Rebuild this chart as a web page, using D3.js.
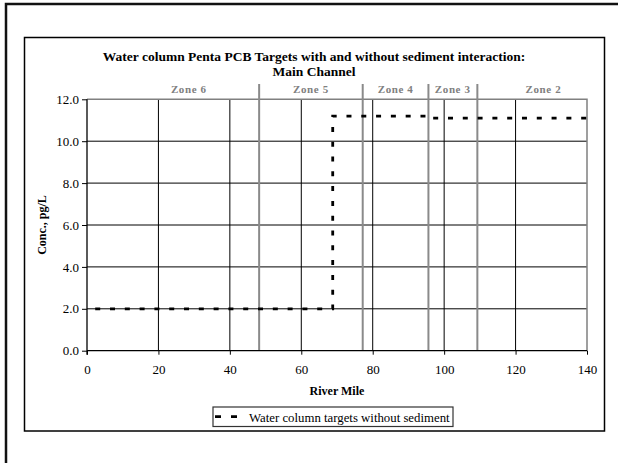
<!DOCTYPE html>
<html>
<head>
<meta charset="utf-8">
<script src="https://cdn.jsdelivr.net/npm/d3@7"></script>
<style>
  body { margin: 0; background: #fff; }
  svg { display: block; font-family: "Liberation Serif", "Times New Roman", serif; }
</style>
</head>
<body>
<script>
// step series: water column targets without sediment
var riverMile = [2.3, 68.8, 68.8, 95.6, 95.6, 140];
var targetConc = [2.0, 2.0, 11.2, 11.2, 11.1, 11.1];

var zoneNames = ["Zone 6", "Zone 5", "Zone 4", "Zone 3", "Zone 2"];
var zoneLabelMile = [28.5, 62.7, 86.4, 102.4, 127.8];
var zoneBounds = [48.2, 77.2, 95.6, 109.3];

var xTicks = [0, 20, 40, 60, 80, 100, 120, 140];
var yTicks = [0, 2, 4, 6, 8, 10, 12];

const W = 618, H = 463;

var svg = d3.select("body").append("svg")
  .attr("width", W)
  .attr("height", H);

// outer frame (top + left only)
svg.append("path")
  .attr("d", "M6,463 V4 H618")
  .attr("fill", "none")
  .attr("stroke", "#111")
  .attr("stroke-width", 2.5);

// inner chart frame
svg.append("rect")
  .attr("x", 24.5).attr("y", 37.5)
  .attr("width", 580).attr("height", 393.5)
  .attr("fill", "#fff")
  .attr("stroke", "#000")
  .attr("stroke-width", 1.5);

const x = d3.scaleLinear().domain([0, 140]).range([87, 587]);
const y = d3.scaleLinear().domain([0, 12]).range([350.7, 99.3]);

// gridlines
svg.append("g")
  .selectAll("line")
  .data(yTicks.filter(d => d > 0 && d < 12))
  .enter().append("line")
  .attr("x1", x(0)).attr("x2", x(140))
  .attr("y1", d => y(d)).attr("y2", d => y(d))
  .attr("stroke", "#000").attr("stroke-width", 1);

svg.append("g")
  .selectAll("line")
  .data(xTicks.filter(d => d > 0 && d < 140))
  .enter().append("line")
  .attr("x1", d => x(d)).attr("x2", d => x(d))
  .attr("y1", y(12)).attr("y2", y(0))
  .attr("stroke", "#000").attr("stroke-width", 1);

// plot border top/right (grey)
svg.append("path")
  .attr("d", "M" + x(0) + "," + y(12) + " H" + x(140) + " V" + y(0))
  .attr("fill", "none")
  .attr("stroke", "#808080")
  .attr("stroke-width", 1.5);

// zone boundaries
svg.append("g")
  .selectAll("line")
  .data(zoneBounds)
  .enter().append("line")
  .attr("x1", d => x(d)).attr("x2", d => x(d))
  .attr("y1", 84).attr("y2", y(0))
  .attr("stroke", "#8a8a8a").attr("stroke-width", 2);

svg.append("g")
  .selectAll("text")
  .data(zoneNames)
  .enter().append("text")
  .attr("x", (d, i) => x(zoneLabelMile[i]))
  .attr("y", 92.7)
  .attr("text-anchor", "middle")
  .attr("font-size", 11)
  .attr("letter-spacing", 0.6)
  .attr("font-weight", "bold")
  .attr("fill", "#808080")
  .text(d => d);

// axes
const xAxis = d3.axisBottom(x).tickValues(xTicks).tickSize(4).tickPadding(10).tickFormat(d3.format("d"));
const yAxis = d3.axisLeft(y).tickValues(yTicks).tickSize(5).tickPadding(3).tickFormat(d3.format(".1f"));

svg.append("g")
  .attr("transform", "translate(0," + y(0) + ")")
  .call(xAxis)
  .call(g => g.select(".domain").attr("d", "M" + x(0) + ",0H" + x(140)).attr("stroke-width", 1.3))
  .selectAll("text")
  .attr("font-size", 13)
  .attr("font-family", "Liberation Serif")
  .attr("fill", "#000");

svg.append("g")
  .attr("transform", "translate(" + x(0) + ",0)")
  .call(yAxis)
  .call(g => g.select(".domain").attr("d", "M0," + y(12) + "V" + (y(0) + 4)).attr("stroke-width", 1.3))
  .selectAll("text")
  .attr("font-size", 13)
  .attr("font-family", "Liberation Serif")
  .attr("fill", "#000");

// series
var pts = riverMile.map((m, i) => [m, targetConc[i]]);
svg.append("path")
  .datum(pts)
  .attr("d", d3.line().x(d => x(d[0])).y(d => y(d[1])))
  .attr("fill", "none")
  .attr("stroke", "#000")
  .attr("stroke-width", 2.8)
  .attr("stroke-dasharray", "5,9.8");

// titles
svg.append("text")
  .attr("x", 314).attr("y", 60.7)
  .attr("text-anchor", "middle")
  .attr("font-size", 13.5)
  .attr("font-weight", "bold")
  .text("Water column Penta PCB Targets with and without sediment interaction:");

svg.append("text")
  .attr("x", 314).attr("y", 76)
  .attr("text-anchor", "middle")
  .attr("font-size", 13.5)
  .attr("font-weight", "bold")
  .text("Main Channel");

svg.append("text")
  .attr("x", x(70)).attr("y", 394.5)
  .attr("text-anchor", "middle")
  .attr("font-size", 12)
  .attr("font-weight", "bold")
  .text("River Mile");

svg.append("text")
  .attr("transform", "translate(46,225) rotate(-90)")
  .attr("text-anchor", "middle")
  .attr("font-size", 12)
  .attr("font-weight", "bold")
  .text("Conc., pg/L");

// legend
var leg = svg.append("g");
leg.append("rect")
  .attr("x", 213).attr("y", 407)
  .attr("width", 240).attr("height", 19.5)
  .attr("fill", "#fff")
  .attr("stroke", "#333")
  .attr("stroke-width", 1.2);
leg.append("line")
  .attr("x1", 215).attr("x2", 237)
  .attr("y1", 416.7).attr("y2", 416.7)
  .attr("stroke", "#000")
  .attr("stroke-width", 2.8)
  .attr("stroke-dasharray", "6,10");
leg.append("text")
  .attr("x", 249).attr("y", 421.5)
  .attr("font-size", 12.8)
  .text("Water column targets without sediment");
</script>
</body>
</html>
